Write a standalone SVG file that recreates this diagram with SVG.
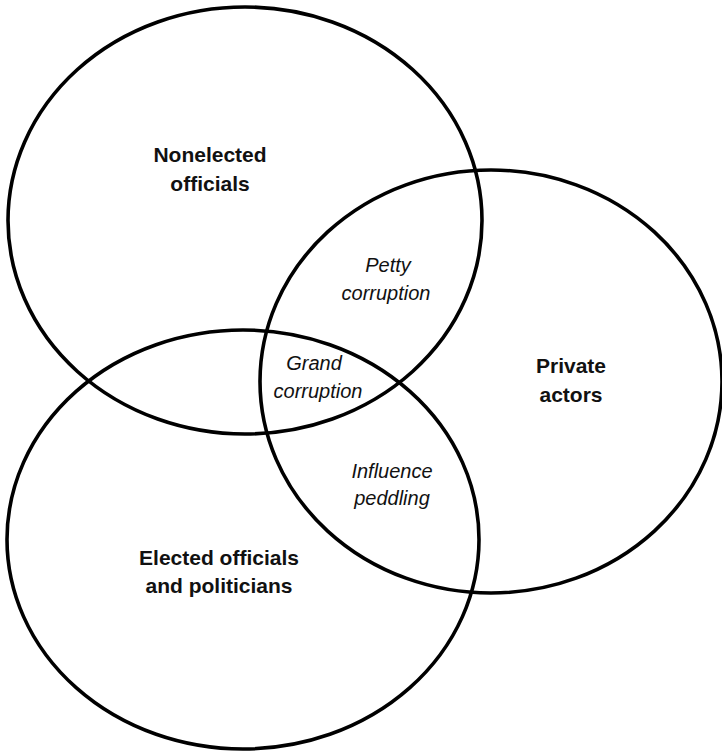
<svg xmlns="http://www.w3.org/2000/svg" width="722" height="752" viewBox="0 0 722 752">
<style>
.ring{fill:none;stroke:#000;stroke-width:3.6}
.b{font-family:"Liberation Sans",Arial,sans-serif;font-weight:bold;font-size:21px;text-anchor:middle;fill:#111}
.i{font-family:"Liberation Sans",Arial,sans-serif;font-style:italic;font-size:20px;text-anchor:middle;fill:#111}
</style>
<rect width="722" height="752" fill="#fff"/>
<g id="nonelected">
<ellipse class="ring" cx="245" cy="220.5" rx="237" ry="213.5"/>
<text class="b" x="210" y="162">Nonelected</text>
<text class="b" x="210" y="191">officials</text>
</g>
<g id="private">
<ellipse class="ring" cx="491" cy="381.5" rx="231" ry="211.5"/>
<text class="b" x="571" y="373">Private</text>
<text class="b" x="571" y="402">actors</text>
</g>
<g id="elected">
<ellipse class="ring" cx="243" cy="539.5" rx="236" ry="209.5"/>
<text class="b" x="219" y="565">Elected officials</text>
<text class="b" x="219" y="593">and politicians</text>
</g>
<g id="petty">
<text class="i" x="388" y="272">Petty</text>
<text class="i" x="386" y="300">corruption</text>
</g>
<g id="grand">
<text class="i" x="314" y="370">Grand</text>
<text class="i" x="318" y="398">corruption</text>
</g>
<g id="influence">
<text class="i" x="392" y="478">Influence</text>
<text class="i" x="392" y="505">peddling</text>
</g>
<g id="connectors"></g>
</svg>
